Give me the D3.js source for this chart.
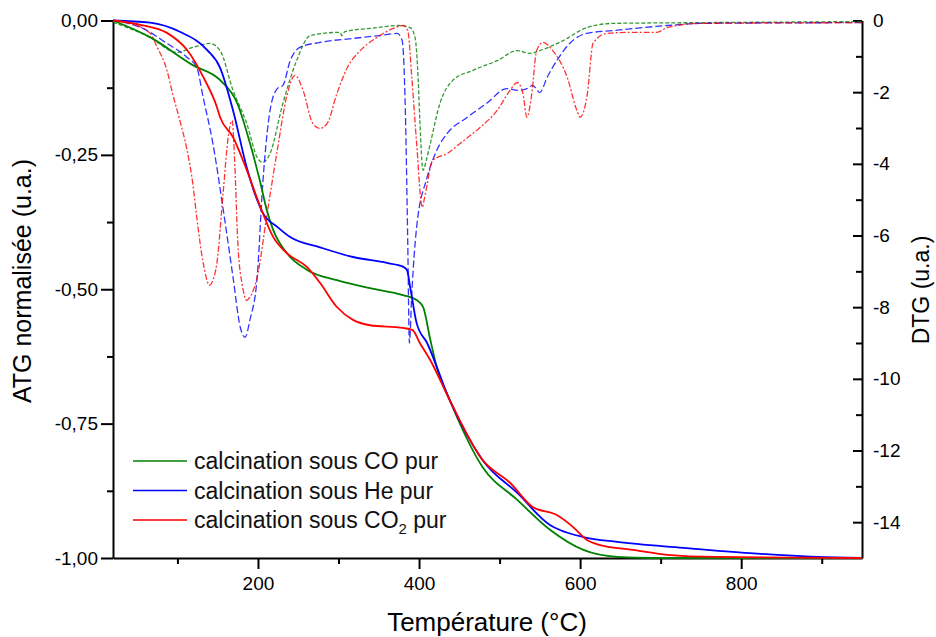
<!DOCTYPE html>
<html><head><meta charset="utf-8">
<script src="https://cdn.jsdelivr.net/npm/d3@7"></script>
<style>body{margin:0;background:#fff;font-family:"Liberation Sans",Arial,sans-serif;}</style>
</head><body><svg id="c" width="936" height="637"></svg>
<script>
// ---- data: [temperature °C, value] ----
const tgCO = [[20,0],[66,-0.031],[119,-0.083],[153,-0.111],[174,-0.153],[190,-0.228],[203,-0.302],[211,-0.353],[219,-0.39],[236,-0.433],[261,-0.464],[298,-0.483],[339,-0.498],[380,-0.511],[397,-0.52],[405,-0.533],[414,-0.594],[422,-0.645],[438,-0.706],[479,-0.831],[522,-0.892],[563,-0.948],[604,-0.985],[646,-0.998],[687,-1.0],[950,-1.0]];
const tgHe = [[20,0],[66,-0.004],[103,-0.021],[137,-0.055],[153,-0.088],[169,-0.167],[186,-0.273],[199,-0.334],[206,-0.358],[224,-0.384],[240,-0.403],[277,-0.422],[318,-0.44],[360,-0.451],[380,-0.458],[385,-0.464],[389,-0.496],[397,-0.563],[410,-0.6],[438,-0.706],[479,-0.818],[522,-0.879],[563,-0.939],[575,-0.948],[604,-0.961],[646,-0.97],[728,-0.981],[811,-0.991],[894,-0.998],[950,-1.0]];
const tgCO2 = [[20,0],[54,-0.008],[87,-0.023],[112,-0.055],[132,-0.105],[149,-0.161],[153,-0.18],[169,-0.217],[186,-0.278],[203,-0.347],[219,-0.403],[236,-0.433],[261,-0.459],[277,-0.488],[298,-0.533],[318,-0.557],[339,-0.567],[380,-0.572],[392,-0.576],[401,-0.6],[414,-0.632],[438,-0.706],[479,-0.818],[513,-0.86],[541,-0.905],[571,-0.92],[591,-0.942],[608,-0.966],[625,-0.976],[666,-0.985],[708,-0.994],[770,-0.998],[950,-1.0]];
const dtgCO = [[20,-0.05],[66,-0.47],[99,-0.89],[119,-0.75],[140,-0.64],[153,-0.84],[169,-1.95],[186,-2.87],[199,-3.82],[206,-3.96],[215,-3.71],[231,-2.31],[248,-1.12],[265,-0.42],[302,-0.33],[304,-0.42],[308,-0.31],[339,-0.22],[376,-0.14],[389,-0.2],[395,-0.47],[399,-1.67],[401,-2.79],[405,-4.18],[409,-3.9],[414,-3.43],[426,-2.31],[442,-1.67],[467,-1.39],[497,-1.12],[522,-0.84],[538,-0.92],[550,-0.84],[579,-0.56],[608,-0.2],[641,-0.08],[749,-0.06],[950,-0.03]];
const dtgHe = [[20,0],[57,-0.22],[87,-0.64],[112,-1.03],[124,-1.31],[132,-2.15],[144,-3.43],[157,-5.3],[169,-7.16],[178,-8.56],[184,-8.84],[190,-8.36],[199,-7.16],[206,-4.54],[215,-2.51],[224,-1.9],[231,-1.81],[240,-1.12],[252,-0.75],[277,-0.61],[318,-0.5],[351,-0.42],[373,-0.36],[379,-0.56],[383,-2.51],[386,-6.22],[388,-9.0],[391,-7.61],[397,-5.77],[410,-4.38],[422,-3.62],[435,-3.15],[460,-2.7],[484,-2.31],[509,-1.9],[522,-1.95],[534,-1.9],[541,-1.81],[550,-2.01],[559,-1.59],[571,-1.12],[587,-0.64],[608,-0.36],[641,-0.28],[708,-0.14],[749,-0.08],[950,-0.06]];
const dtgCO2 = [[20,0],[41,-0.08],[66,-0.36],[75,-0.75],[87,-1.39],[94,-2.04],[103,-2.79],[112,-3.62],[119,-4.54],[124,-5.49],[132,-6.77],[140,-7.39],[144,-7.25],[149,-6.77],[157,-4.74],[163,-3.26],[168,-2.79],[171,-3.9],[175,-6.22],[181,-7.44],[186,-7.81],[190,-7.72],[199,-7.16],[211,-5.44],[224,-3.62],[236,-2.09],[246,-1.53],[256,-1.95],[268,-2.87],[277,-3.01],[286,-2.87],[298,-2.04],[311,-1.31],[327,-0.84],[348,-0.47],[368,-0.22],[380,-0.14],[386,-0.28],[391,-1.59],[397,-3.43],[404,-5.21],[407,-4.93],[417,-3.9],[435,-3.71],[451,-3.43],[476,-2.98],[497,-2.51],[513,-1.95],[522,-1.73],[529,-2.04],[534,-2.7],[540,-2.04],[546,-0.84],[554,-0.61],[566,-0.84],[584,-1.59],[596,-2.51],[600,-2.7],[609,-2.04],[616,-0.64],[633,-0.36],[662,-0.33],[695,-0.33],[708,-0.2],[749,-0.08],[950,-0.06]];

const xMajor = [200,400,600,800];
const xMinor = [100,300,500,700,900];
const yLeftMajor = [0,-0.25,-0.5,-0.75,-1];
const yLeftMinor = [-0.125,-0.375,-0.625,-0.875];
const yRightMajor = [0,-2,-4,-6,-8,-10,-12,-14];
const yRightMinor = [-1,-3,-5,-7,-9,-11,-13];
const seriesNames = ["calcination sous CO pur","calcination sous He pur","calcination sous CO"];
const seriesColors = ["#008000","#0000ff","#ff0000"];

// ---- layout ----
const L=113, R=862, T=20.5, B=558;
const svg = d3.select("#c");
const x = d3.scaleLinear().domain([20,950]).range([L,R]);
const yL = d3.scaleLinear().domain([-1,0]).range([B,T]);
const yR = d3.scaleLinear().domain([-15,0]).range([B,T]);
const fmtL = v => d3.format(".2f")(v).replace(".",",").replace("−","-");
const fmtR = v => String(v);

function axisStyle(g){
  g.selectAll(".domain").attr("stroke","#000").attr("stroke-width",2);
  g.selectAll(".tick line").attr("stroke","#000").attr("stroke-width",2);
  g.selectAll("text").attr("fill","#000").attr("font-size",19).attr("font-family","Liberation Sans, Arial, sans-serif");
}
// minor ticks
svg.append("g").attr("transform",`translate(0,${B})`)
  .call(d3.axisBottom(x).tickValues(xMinor).tickSize(6).tickFormat(""))
  .call(axisStyle).select(".domain").remove();
svg.append("g").attr("transform",`translate(${L},0)`)
  .call(d3.axisLeft(yL).tickValues(yLeftMinor).tickSize(6).tickFormat(""))
  .call(axisStyle).select(".domain").remove();
svg.append("g").attr("transform",`translate(${R},0)`)
  .call(d3.axisRight(yR).tickValues(yRightMinor).tickSize(-6).tickFormat(""))
  .call(axisStyle).select(".domain").remove();
// major axes
svg.append("g").attr("transform",`translate(0,${B})`)
  .call(d3.axisBottom(x).tickValues(xMajor).tickSize(11).tickSizeOuter(0).tickPadding(8).tickFormat(d3.format("d")))
  .call(axisStyle);
svg.append("g").attr("transform",`translate(${L},0)`)
  .call(d3.axisLeft(yL).tickValues(yLeftMajor).tickSize(12).tickSizeOuter(0).tickPadding(3).tickFormat(fmtL))
  .call(axisStyle);
svg.append("g").attr("transform",`translate(${R},0)`)
  .call(d3.axisRight(yR).tickValues(yRightMajor).tickSize(-9).tickSizeOuter(0).tickPadding(11).tickFormat(fmtR))
  .call(axisStyle);

// ---- curves ----
const lineL = d3.line().x(d=>x(d[0])).y(d=>yL(d[1])).curve(d3.curveMonotoneX);
const lineR = d3.line().x(d=>x(d[0])).y(d=>yR(d[1])).curve(d3.curveMonotoneX);
const dashes = ["4,2","7,3","6,2,2,2"];
[dtgCO,dtgHe,dtgCO2].forEach((d,i)=>{
  svg.append("path").datum(d).attr("d",lineR).attr("fill","none")
    .attr("stroke",seriesColors[i]).attr("stroke-width",1.3).attr("stroke-dasharray",dashes[i]).attr("opacity",0.8);
});
[tgCO,tgHe,tgCO2].forEach((d,i)=>{
  svg.append("path").datum(d).attr("d",lineL).attr("fill","none")
    .attr("stroke",seriesColors[i]).attr("stroke-width",1.8);
});

// ---- legend ----
const lg = svg.append("g");
seriesNames.forEach((n,i)=>{
  const yy = 461 + i*29.5;
  lg.append("line").attr("x1",133).attr("x2",187).attr("y1",yy).attr("y2",yy)
    .attr("stroke",seriesColors[i]).attr("stroke-width",1.4);
  const t = lg.append("text").attr("x",194).attr("y",yy+8).attr("font-size",23).attr("fill","#111").text(n);
  if(i===2){
    t.append("tspan").attr("font-size",15).attr("dy",6).text("2");
    t.append("tspan").attr("dy",-6).text(" pur");
  }
});

// ---- titles ----
svg.append("text").attr("x",487).attr("y",631).attr("text-anchor","middle").attr("font-size",26).attr("fill","#000").text("Température (°C)");
svg.append("text").attr("transform","translate(31,281) rotate(-90)").attr("text-anchor","middle").attr("font-size",25).attr("fill","#000").text("ATG normalisée (u.a.)");
svg.append("text").attr("transform","translate(929,290) rotate(-90)").attr("text-anchor","middle").attr("font-size",23).attr("fill","#000").text("DTG (u.a.)");
</script></body></html>
